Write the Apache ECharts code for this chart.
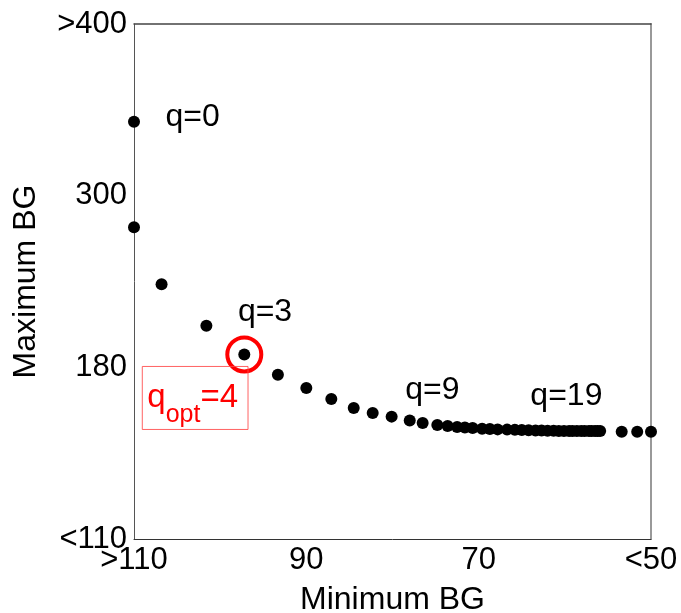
<!DOCTYPE html>
<html>
<head>
<meta charset="utf-8">
<script src="https://cdn.jsdelivr.net/npm/echarts@6/dist/echarts.min.js"></script>
<style>
html,body{margin:0;padding:0;background:#fff;}
#chart{width:681px;height:613px;}
</style>
</head>
<body>
<div id="chart"></div>
<script>
// ---- data ----
const minBG = [110, 110, 106.8, 101.6, 97.2, 93.3, 90.0, 87.1, 84.5, 82.3,
  80.1, 78.0, 76.5, 74.8, 73.6, 72.5, 71.6, 70.7, 69.6, 68.7,
  67.8, 66.7, 65.8, 65.0, 64.2, 63.4, 62.7, 62.0, 61.3, 60.7,
  60.1, 59.5, 59.1, 58.6, 58.1, 57.7, 57.2, 56.9, 56.5, 56.2,
  55.9, 53.4, 51.6, 50.0];
const maxBG = [343, 278, 238, 209, 189, 177, 171.6, 167.1, 163.4, 161.4,
  159.9, 158.3, 157.3, 156.5, 156.1, 155.7, 155.5, 155.3, 155.0, 154.9,
  154.7, 154.6, 154.5, 154.4, 154.3, 154.2, 154.2, 154.1, 154.1, 154.0,
  154.0, 154.0, 154.0, 154.0, 154.0, 154.0, 154.0, 154.0, 154.0, 154.0,
  154.0, 153.7, 153.7, 153.7];
const xTickValues = [110, 90, 70, 50];
const xTickLabels = ['>110', '90', '70', '<50'];
const yTickValues = [110, 180, 300, 400];
const yTickLabels = ['<110', '180', '300', '>400'];
const labelIndices = [0, 3, 9, 19];
const labelTexts = ['q=0', 'q=3', 'q=9', 'q=19'];
const qOpt = 4;

// ---- styling ----
const labelOffsets = [[25.5, -5], [25.5, -13.5], [26.5, -23], [34.5, -32.5]];
const FONT = 'Liberation Sans, Arial, Helvetica, sans-serif';

// piecewise mapping of BG value to equally spaced tick positions
function toYPos(v) {
  const t = yTickValues;
  for (let i = 0; i < t.length - 1; i++) {
    if (v <= t[i + 1] || i === t.length - 2) {
      return i + (v - t[i]) / (t[i + 1] - t[i]);
    }
  }
}

const points = minBG.map((x, i) => {
  const k = labelIndices.indexOf(i);
  const item = { value: [x, toYPos(maxBG[i])] };
  if (k >= 0) {
    item.label = {
      show: true, formatter: labelTexts[k], position: 'right', distance: 0,
      offset: labelOffsets[k], color: '#000', fontSize: 32, fontFamily: FONT
    };
  }
  return item;
});

const chart = echarts.init(document.getElementById('chart'));
const noAxis = { show: false };
chart.setOption({
  animation: false,
  backgroundColor: '#fff',
  grid: { left: 134, right: 30, top: 24, bottom: 74, outerBoundsMode: 'none', containLabel: false },
  xAxis: [{
    type: 'value', min: 50, max: 110, interval: 20, inverse: true,
    position: 'bottom',
    axisLine: { show: true, onZero: false, lineStyle: { color: '#333', width: 1 } },
    axisTick: noAxis, splitLine: noAxis,
    axisLabel: {
      margin: 6, color: '#000', fontSize: 31, fontFamily: FONT,
      formatter: v => { const i = xTickValues.indexOf(v); return i >= 0 ? xTickLabels[i] : ''; }
    },
    name: 'Minimum BG', nameLocation: 'middle', nameGap: 45,
    nameTextStyle: { color: '#000', fontSize: 32, fontFamily: FONT }
  }, {
    type: 'value', min: 50, max: 110, inverse: true, position: 'top',
    axisLine: { show: true, onZero: false, lineStyle: { color: '#444', width: 1.5 } },
    axisTick: noAxis, splitLine: noAxis, axisLabel: noAxis
  }],
  yAxis: [{
    type: 'value', min: 0, max: 3, interval: 1, position: 'left',
    axisLine: { show: true, onZero: false, lineStyle: { color: '#555', width: 1 } },
    axisTick: noAxis, splitLine: noAxis,
    axisLabel: {
      margin: 7, color: '#000', fontSize: 31, fontFamily: FONT, padding: [9, 0, 0, 0],
      formatter: v => yTickLabels[Math.round(v)] || ''
    },
    name: 'Maximum BG', nameLocation: 'middle', nameGap: 92, nameRotate: 90,
    nameTextStyle: { color: '#000', fontSize: 32, fontFamily: FONT }
  }, {
    type: 'value', min: 0, max: 3, position: 'right',
    axisLine: { show: true, onZero: false, lineStyle: { color: '#999', width: 2 } },
    axisTick: noAxis, splitLine: noAxis, axisLabel: noAxis
  }],
  series: [{
    type: 'scatter', xAxisIndex: 0, yAxisIndex: 0, clip: false,
    symbol: 'circle', symbolSize: 12,
    itemStyle: { color: '#000', opacity: 1 },
    data: points, z: 3
  }, {
    type: 'scatter', xAxisIndex: 0, yAxisIndex: 0, clip: false,
    symbol: 'circle', symbolSize: 34,
    itemStyle: { color: 'rgba(0,0,0,0)', borderColor: '#ff0000', borderWidth: 4, opacity: 1 },
    data: [[minBG[qOpt], toYPos(maxBG[qOpt])]],
    label: {
      show: true, position: [-83, 31], align: 'left', verticalAlign: 'top',
      formatter: '{a|q}{b|opt}{a|=' + qOpt + '}',
      borderColor: 'rgba(255,70,70,0.85)', borderWidth: 1,
      padding: [15, 10, 2, 5],
      rich: {
        a: { color: '#ff0000', fontSize: 33, fontFamily: FONT, lineHeight: 2, verticalAlign: 'top' },
        b: { color: '#ff0000', fontSize: 25, fontFamily: FONT, lineHeight: 46, verticalAlign: 'bottom' }
      }
    },
    z: 4
  }]
});
</script>
</body>
</html>
